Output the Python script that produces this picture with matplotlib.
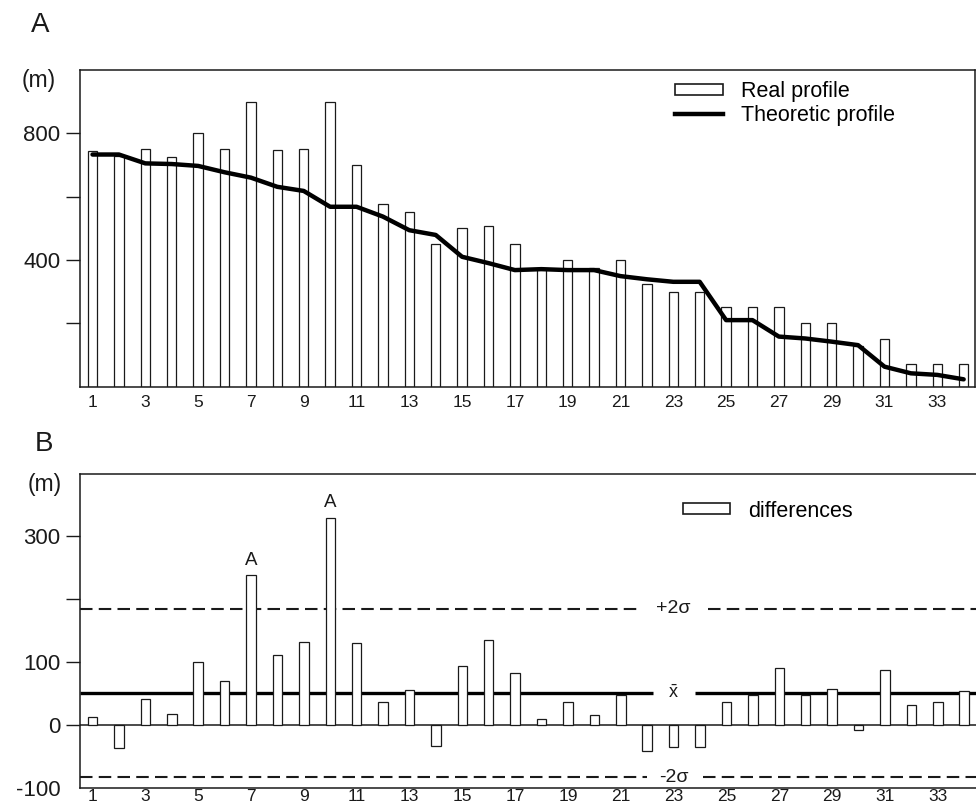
import matplotlib
matplotlib.use("Agg")
import matplotlib.pyplot as plt
from matplotlib.patches import Rectangle
from matplotlib.lines import Line2D

plt.rcParams['font.family'] = ['Liberation Sans', 'DejaVu Sans']
plt.rcParams['mathtext.fontset'] = 'custom'
plt.rcParams['mathtext.rm'] = 'Liberation Sans'
plt.rcParams['mathtext.it'] = 'Liberation Sans'

# profile points 1..34
points = list(range(1, 35))
real_profile = [745, 728, 750, 726, 802, 750, 900, 747, 750, 900, 701, 576, 551, 449,
                500, 508, 449, 372, 400, 375, 400, 323, 298, 298, 250, 250, 250, 200,
                200, 128, 150, 70, 70, 70]
theoretic_profile = [733, 733, 705, 703, 697, 677, 660, 631, 618, 568, 568, 537, 494, 479,
                     410, 390, 368, 371, 368, 368, 349, 339, 331, 331, 210, 210, 158, 152,
                     142, 131, 63, 42, 37, 23]
differences = [13, -36, 41, 18, 100, 69, 237, 111, 131, 328, 130, 36, 56, -34, 93, 135,
               82, 9, 36, 15, 48, -41, -35, -35, 37, 47, 90, 47, 57, -8, 87, 32, 37, 54]
anomalies = [7, 10]
mean_diff = 50
plus_2sigma = 184
minus_2sigma = -83
xtick_labels = list(range(1, 35, 2))

ink = '#1a1a1a'
bar_w = 0.36
dash = (0, (6, 3))

fig = plt.figure(figsize=(9.76, 8.10), dpi=100)
axA = fig.add_axes([0.082, 0.5227, 0.917, 0.3909])
axB = fig.add_axes([0.082, 0.0272, 0.93, 0.3877])

# --- panel A: real vs theoretic profile
axA.bar(points, real_profile, width=bar_w, facecolor='white', edgecolor=ink,
        linewidth=0.9, zorder=2)
axA.plot(points, theoretic_profile, color='black', linewidth=3.2,
         solid_joinstyle='round', solid_capstyle='round', zorder=3)
axA.set_xlim(0.527, 34.43)
axA.set_ylim(0, 1000)
axA.set_yticks([200, 400, 600, 800])
axA.set_yticklabels(['', '400', '', '800'])
axA.set_xticks(xtick_labels)
axA.set_xticklabels([str(v) for v in xtick_labels])

axA.legend([Rectangle((0, 0), 1, 1, facecolor='white', edgecolor=ink, linewidth=1.2),
            Line2D([], [], color='black', linewidth=3.2)],
           ['Real profile', 'Theoretic profile'],
           loc='upper left', bbox_to_anchor=(0.665, 0.965), frameon=False,
           fontsize=15.5, handlelength=2.2, handleheight=0.4, handletextpad=0.85,
           labelspacing=0.12, borderpad=0, borderaxespad=0)

# --- panel B: differences with mean and 2-sigma limits
xlo, xhi = 0.527, 34.89
axB.bar(points, differences, width=bar_w, facecolor='white', edgecolor=ink,
        linewidth=0.9, zorder=2)
axB.axhline(0, color=ink, linewidth=1.1, zorder=1)
# reference lines broken around their labels
axB.hlines([mean_diff] * 2, [xlo, 23.8], [22.2, xhi], color='black', linewidth=2.4,
           zorder=1)
axB.hlines([plus_2sigma] * 2, [xlo, 24.3], [21.8, xhi], color=ink, linewidth=1.5,
           linestyle=dash, zorder=1)
axB.hlines([minus_2sigma] * 2, [xlo, 24.1], [22.0, xhi], color=ink, linewidth=1.5,
           linestyle=dash, zorder=1)
axB.text(23, plus_2sigma, '+2σ', ha='center', va='center', fontsize=14, color=ink)
axB.text(23, minus_2sigma, '-2σ', ha='center', va='center', fontsize=14, color=ink)
axB.text(23, mean_diff, r'$\bar{\mathrm{x}}$', ha='center', va='center', fontsize=13,
         color=ink)
for p in anomalies:
    axB.annotate('A', (p, differences[p - 1]), xytext=(0, 5), textcoords='offset points',
                 ha='center', va='bottom', fontsize=13.5, color=ink)

axB.set_xlim(xlo, xhi)
axB.set_ylim(-100, 398)
axB.set_yticks([-100, 0, 100, 200, 300])
axB.set_yticklabels(['-100', '0', '100', '', '300'])
axB.yaxis.get_major_ticks()[0].tick1line.set_visible(False)
axB.set_xticks(xtick_labels)
axB.set_xticklabels([str(v) for v in xtick_labels])

axB.legend([Rectangle((0, 0), 1, 1, facecolor='white', edgecolor=ink, linewidth=1.2)],
           ['differences'], loc='upper left', bbox_to_anchor=(0.664, 0.915),
           frameon=False, fontsize=15.5, handlelength=2.2, handleheight=0.4,
           handletextpad=0.85, borderpad=0, borderaxespad=0)

for ax in (axA, axB):
    for s in ax.spines.values():
        s.set_linewidth(1.1)
        s.set_color(ink)
    ax.tick_params(axis='y', length=10, width=1, pad=4, labelsize=16, colors=ink)
    ax.tick_params(axis='x', length=0, labelsize=12.5, colors=ink)
axA.tick_params(axis='x', pad=6)
axB.tick_params(axis='x', pad=1)

fig.text(40 / 976, 1 - 25 / 810, 'A', fontsize=20, ha='center', va='center', color=ink)
fig.text(44 / 976, 1 - 444 / 810, 'B', fontsize=20, ha='center', va='center', color=ink)
fig.text(39 / 976, 1 - 80 / 810, '(m)', fontsize=16.5, ha='center', va='center', color=ink)
fig.text(45 / 976, 1 - 485 / 810, '(m)', fontsize=16.5, ha='center', va='center', color=ink)

fig.savefig('out.png', dpi=100)
